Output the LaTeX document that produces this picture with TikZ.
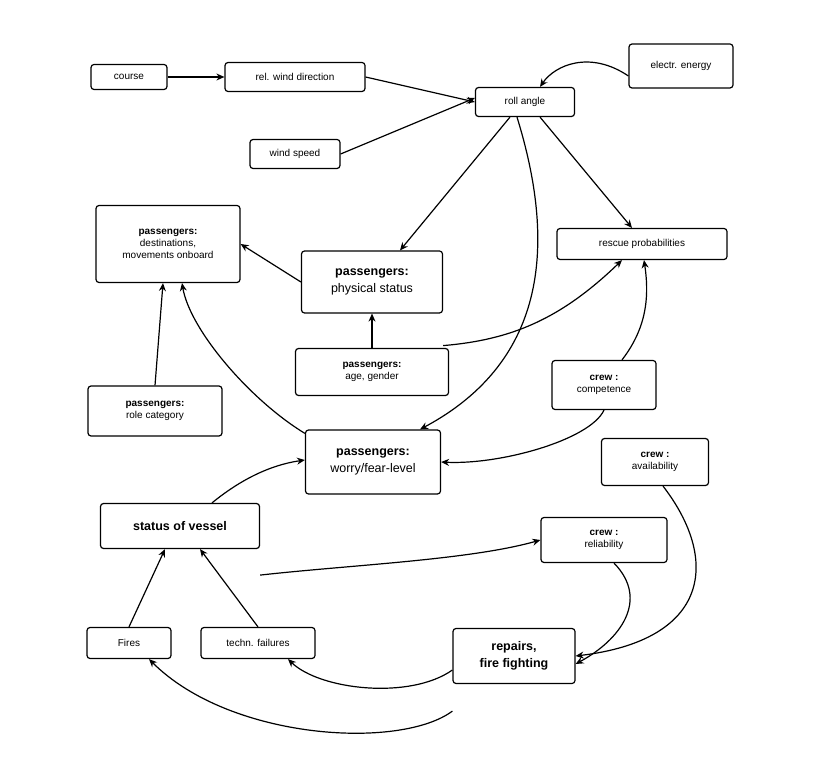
\documentclass[tikz,border=0pt]{standalone}
\usepackage{fontspec}
\setmainfont{Liberation Sans}
\usetikzlibrary{arrows.meta}
\begin{document}
\begin{tikzpicture}[x=1pt,y=-1pt,
 box/.style={draw,line width=1.2pt,rounded corners=3pt,align=center,font=\fontsize{10}{12}\selectfont,inner sep=0pt},
 big/.style={box,font=\fontsize{12.5}{17}\selectfont},
 ar/.style={-{Stealth[length=8pt,width=7pt]},line width=1.2pt}]
\useasboundingbox (0,0) rectangle (820,767);
\node[box,minimum width=76,minimum height=25] (course) at (129,77) {course};
\node[box,minimum width=140,minimum height=29] (rel) at (295,77) {rel. wind direction};
\node[box,minimum width=99,minimum height=29] (roll) at (525,102) {roll angle};
\node[box,minimum width=104,minimum height=44] (el) at (681,66) {electr. energy};
\node[box,minimum width=90,minimum height=29] (ws) at (295,154) {wind speed};
\node[box,minimum width=144,minimum height=77] (dest) at (168,244) {\textbf{passengers:}\\destinations,\\movements onboard};
\node[big,minimum width=141,minimum height=62] (phys) at (372,282) {\textbf{passengers:}\\physical status};
\node[box,minimum width=170,minimum height=31] (resc) at (642,244) {rescue probabilities};
\node[box,minimum width=153,minimum height=47] (age) at (372,372) {\textbf{passengers:}\\age, gender};
\node[box,minimum width=104,minimum height=49] (comp) at (604,385) {\textbf{crew :}\\competence};
\node[box,minimum width=134,minimum height=50] (role) at (155,411) {\textbf{passengers:}\\role category};
\node[big,minimum width=135,minimum height=64] (worry) at (373,462) {\textbf{passengers:}\\worry/fear-level};
\node[box,minimum width=107,minimum height=47] (avail) at (655,462) {\textbf{crew :}\\availability};
\node[big,minimum width=159,minimum height=45] (stat) at (180,526) {\textbf{status of vessel}};
\node[box,minimum width=126,minimum height=45] (rel2) at (604,540) {\textbf{crew :}\\reliability};
\node[box,minimum width=84,minimum height=31] (fires) at (129,643) {Fires};
\node[box,minimum width=114,minimum height=31] (tech) at (258,643) {techn. failures};
\node[big,minimum width=122,minimum height=55] (rep) at (514,656) {\textbf{repairs,}\\\textbf{fire fighting}};

\draw[ar] (course) -- (rel);
\draw[ar] (rel.east) -- (roll.west);
\draw[ar] (ws.east) -- ([yshift=4]roll.west);
\draw[ar] ([yshift=-10]el.west) .. controls (590,50) and (555,65) .. ([xshift=15]roll.north);
\draw[ar] ([xshift=-15]roll.south) -- ([xshift=28]phys.north);
\draw[ar] ([xshift=15]roll.south) -- ([xshift=-10]resc.north);
\draw[ar] ([xshift=-8]roll.south) .. controls (555,240) and (550,360) .. ([xshift=47]worry.north);
\draw[ar] (phys.west) -- ([yshift=0]dest.east);
\draw[ar] ([yshift=-32]phys.south east) .. controls (510,340) and (560,320) .. ([xshift=-20]resc.south);
\draw[ar] (age) -- (phys);
\draw[ar] (role.north) -- ([xshift=-5]dest.south);
\draw[ar] ([yshift=-4]worry.north west) .. controls (250,400) and (190,330) .. ([xshift=14]dest.south);
\draw[ar] ([xshift=18]comp.north) .. controls (645,330) and (650,300) .. ([xshift=2]resc.south);
\draw[ar] (comp.south) .. controls (590,440) and (500,465) .. (worry.east);
\draw[ar] ([xshift=32]stat.north) .. controls (240,480) and (270,465) .. ([yshift=2]worry.west);
\draw[ar] ([yshift=-26]stat.south east) .. controls (350,565) and (470,560) .. (rel2.west);
\draw[ar] (fires.north) -- ([xshift=-15]stat.south);
\draw[ar] (tech.north) -- ([xshift=20]stat.south);
\draw[ar] ([xshift=8]avail.south) .. controls (720,560) and (710,640) .. ([yshift=0]rep.east);
\draw[ar] ([xshift=10]rel2.south) .. controls (650,600) and (620,640) .. ([yshift=-8]rep.east);
\draw[ar] ([yshift=-14]rep.west) .. controls (410,700) and (320,690) .. ([xshift=30]tech.south);
\draw[ar] ([yshift=-27]rep.south west) .. controls (400,750) and (230,740) .. ([xshift=20]fires.south);
\end{tikzpicture}
\end{document}
